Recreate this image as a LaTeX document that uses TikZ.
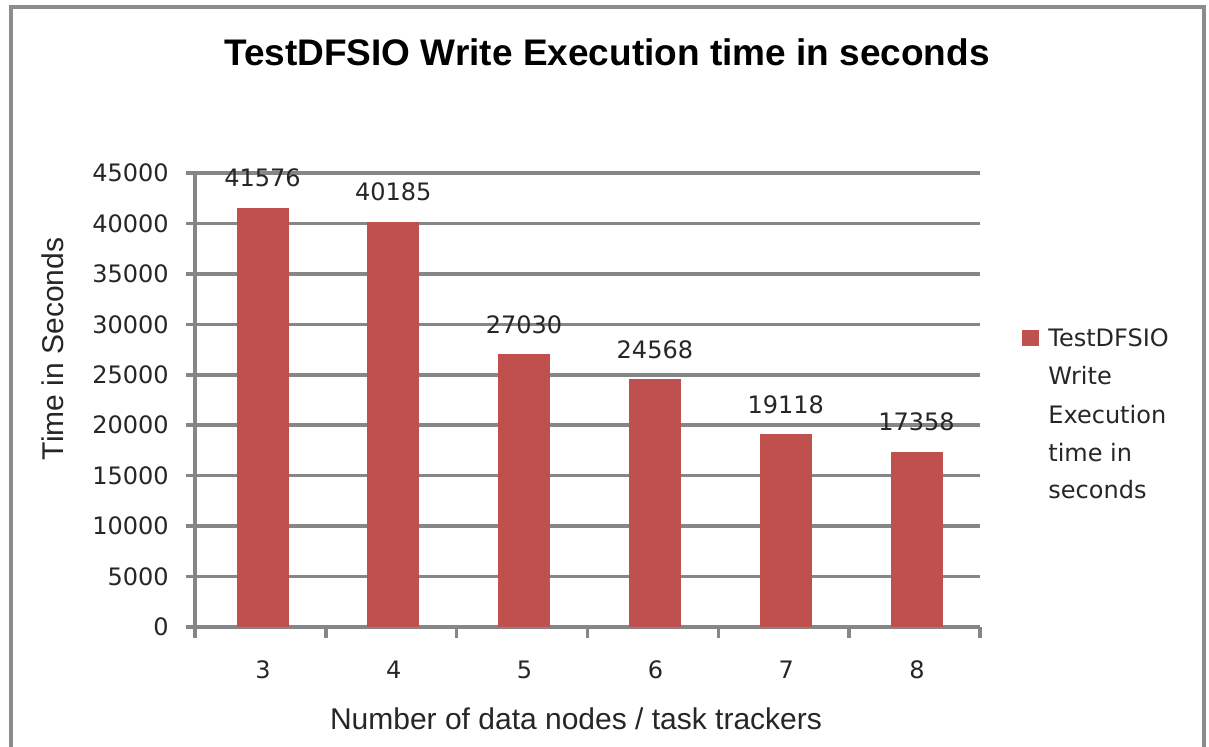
\documentclass[tikz,border=0pt]{standalone}
\usepackage{fontspec}
\setmainfont{Liberation Sans}
\newfontfamily\dejavu{DejaVu Sans}
\definecolor{barred}{HTML}{C0504D}
\definecolor{gridgray}{HTML}{868686}
\definecolor{framegray}{HTML}{8C8C8C}
\begin{document}
\begin{tikzpicture}[x=0.5pt,y=-0.5pt,
  gridline/.style={draw=gridgray,line width=1.8pt},
  axisline/.style={draw=gridgray,line width=1.8pt},
  barfill/.style={fill=barred,draw=none},
  numlab/.style={font=\dejavu\fontsize{12}{14}\selectfont,inner sep=0pt,text=black!85},
  leglab/.style={font=\dejavu\fontsize{12}{14}\selectfont,inner sep=0pt,anchor=base west,text=black!85},
  axtitle/.style={font=\fontsize{15}{18}\selectfont,inner sep=0pt,text=black!85},
  charttitle/.style={font=\bfseries\fontsize{18.5}{22}\selectfont,inner sep=0pt}
]
\useasboundingbox (0,0) rectangle (1209,746);
\clip (0,0) rectangle (1209,746);
\fill[white] (0,0) rectangle (1209,746);
\draw[draw=framegray,line width=1.6pt] (11,7) rectangle (1204,800);

% title
\node[charttitle,anchor=base] (title) at (607,65) {TestDFSIO Write Execution time in seconds};

% gridlines and y tick labels
\foreach \val [count=\i from 0] in {0,5000,10000,15000,20000,25000,30000,35000,40000,45000}{
  \pgfmathsetmacro{\yy}{627-\i*50.444}
  \draw[gridline] (186,\yy) -- (980,\yy);
  \node[numlab,anchor=east] (yt\i) at (169,\yy) {\val};
}
% axes
\draw[axisline] (195,173) -- (195,638);
\foreach \k in {1,...,6}{
  \pgfmathsetmacro{\xx}{195+\k*130.83}
  \draw[axisline] (\xx,627) -- (\xx,638);
}

% bars
\foreach \v/\vk [count=\k from 0] in {41576/41.576,40185/40.185,27030/27.030,24568/24.568,19118/19.118,17358/17.358}{
  \pgfmathsetmacro{\cx}{262.5+\k*130.8}
  \pgfmathsetmacro{\bartop}{627-\vk*10.0888}
  \fill[barfill] ({\cx-26},627) rectangle ({\cx+26},\bartop);
  \node[numlab,anchor=base] (val\k) at (\cx,{\bartop-21}) {\v};
  \pgfmathtruncatemacro{\cat}{\k+3}
  \node[numlab,anchor=base] (cat\k) at ({\cx+0.5},678) {\cat};
}

% axis titles
\node[axtitle,anchor=base] (xtitle) at (576,729) {Number of data nodes / task trackers};
\node[axtitle,anchor=base,rotate=90] (ytitle) at (63,349) {Time in Seconds};

% legend
\fill[barfill] (1022,330) rectangle (1039,346);
\node[leglab] (leg1) at (1048,346) {TestDFSIO};
\node[leglab] (leg2) at (1048,384) {Write};
\node[leglab] (leg3) at (1048,423) {Execution};
\node[leglab] (leg4) at (1048,461) {time in};
\node[leglab] (leg5) at (1048,498) {seconds};
\end{tikzpicture}
\end{document}
